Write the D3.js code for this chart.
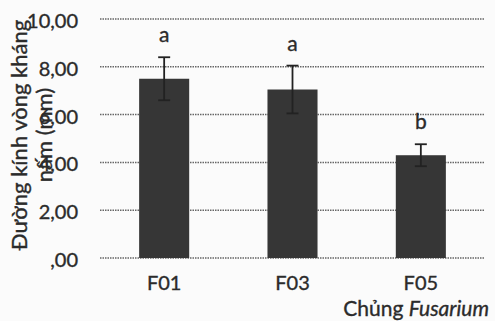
<!DOCTYPE html>
<html>
<head>
<meta charset="utf-8">
<script src="https://cdn.jsdelivr.net/npm/d3@7"></script>
<style>
  html, body { margin: 0; padding: 0; background: #fbfbfb; }
  svg { display: block; font-family: Lato, "Open Sans", sans-serif; }
  svg text { stroke: #2b2b2b; stroke-width: 0.35px; }
</style>
</head>
<body>
<svg id="chart" width="495" height="321"></svg>
<script>
// Inhibition zone diameter per Fusarium strain
const strains = ["F01", "F03", "F05"];
const means = [7.50, 7.05, 4.30];
const errors = [0.90, 1.00, 0.46];
const groups = ["a", "a", "b"];
const yTicks = [0, 2, 4, 6, 8, 10];

const svg = d3.select("#chart");
const plotLeft = 100, plotRight = 485, plotTop = 19, plotBottom = 258;

const x = d3.scaleBand().domain(strains).range([plotLeft, plotRight])
  .paddingInner(0.61).paddingOuter(0.305);
const y = d3.scaleLinear().domain([0, 10]).range([plotBottom, plotTop]);

const fmt = v => v === 0 ? ",00" : d3.format(".2f")(v).replace(".", ",");

// gridlines
svg.append("g").selectAll("line").data(yTicks).join("line")
  .attr("x1", plotLeft).attr("x2", plotRight)
  .attr("y1", d => y(d)).attr("y2", d => y(d))
  .attr("stroke", "#666").attr("stroke-width", 1.5)
  .attr("stroke-dasharray", "1.5,1");

// y axis labels
const yAxis = d3.axisLeft(y).tickValues(yTicks).tickFormat(fmt).tickSize(0).tickPadding(0);
const ya = svg.append("g").attr("transform", "translate(78,2)").call(yAxis);
ya.select(".domain").remove();
ya.selectAll("text").attr("font-size", 20).attr("fill", "#2b2b2b")
  .attr("font-family", "Lato, 'Open Sans', sans-serif");

// bars
svg.append("g").selectAll("rect").data(strains).join("rect")
  .attr("x", d => x(d)).attr("width", x.bandwidth())
  .attr("y", (d, i) => y(means[i]))
  .attr("height", (d, i) => y(0) - y(means[i]))
  .attr("fill", "#363636");

// error bars
const eb = svg.append("g").attr("stroke", "#222").attr("stroke-width", 1.8);
strains.forEach((s, i) => {
  const cx = x(s) + x.bandwidth() / 2;
  const y1 = y(means[i] + errors[i]), y0 = y(means[i] - errors[i]);
  eb.append("line").attr("x1", cx).attr("x2", cx).attr("y1", y1).attr("y2", y0);
  eb.append("line").attr("x1", cx - 6).attr("x2", cx + 6).attr("y1", y1).attr("y2", y1);
  eb.append("line").attr("x1", cx - 6).attr("x2", cx + 6).attr("y1", y0).attr("y2", y0);
});

// significance letters
svg.append("g").selectAll("text").data(strains).join("text")
  .attr("x", d => x(d) + x.bandwidth() / 2)
  .attr("y", (d, i) => y(means[i] + errors[i]) - 15)
  .attr("text-anchor", "middle").attr("font-size", 21).attr("fill", "#2b2b2b")
  .text((d, i) => groups[i]);

// x axis labels
const xAxis = d3.axisBottom(x).tickSize(0).tickPadding(0);
const xa = svg.append("g").attr("transform", "translate(0,276)").call(xAxis);
xa.select(".domain").remove();
xa.selectAll("text").attr("font-size", 20).attr("fill", "#2b2b2b")
  .attr("font-family", "Lato, 'Open Sans', sans-serif");

// x axis title
const xt = svg.append("text").attr("x", 489).attr("y", 316)
  .attr("text-anchor", "end").attr("font-size", 21).attr("fill", "#2b2b2b");
xt.append("tspan").text("Chủng ");
xt.append("tspan").attr("font-style", "italic").text("Fusarium");

// y axis title (two lines)
const yt = svg.append("text").attr("transform", "translate(0,135) rotate(-90)")
  .attr("text-anchor", "middle").attr("font-size", 22).attr("fill", "#2b2b2b");
yt.append("tspan").attr("x", 0).attr("y", 27).text("Đường kính vòng kháng");
yt.append("tspan").attr("x", 0).attr("y", 52).text("nấm (mm)");
</script>
</body>
</html>
